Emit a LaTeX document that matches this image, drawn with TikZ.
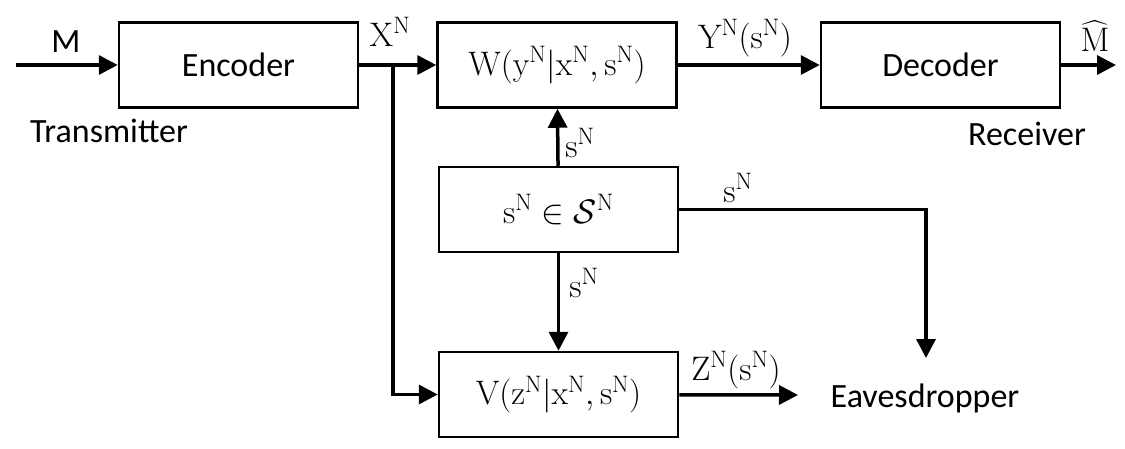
\RequirePackage{fix-cm}
\documentclass[tikz,border=0pt]{standalone}
\usepackage{fontspec}
\usepackage{amsmath}
\newfontfamily\labelfont{Carlito}
\usetikzlibrary{arrows.meta}

\tikzset{
  block/.style={draw, line width=2.5pt, minimum width=239pt, minimum height=85pt, inner sep=0pt},
  sig/.style={line width=3.5pt, -{Triangle[length=19pt,width=19pt]}},
  txt/.style={font=\labelfont\fontsize{34}{40}\selectfont, inner sep=0pt},
  mth/.style={font=\fontsize{34}{40}\selectfont, inner sep=0pt}
}

\begin{document}
\begin{tikzpicture}[x=1pt, y=-1pt]

        \useasboundingbox (0,0) rectangle (1125,448);

        % Blocks
        \node[block, txt] (enc) at (238.5,65) {Encoder};
        \node[block, mth] (chw) at (557,65) {$\mathrm{W(y^N|x^N,s^N)}$};
        \node[block, txt] (dec) at (940.5,65) {Decoder};
        \node[block, mth] (state) at (558.5,209.5) {$\mathrm{s^N} \in \mathcal{S}^{\mathrm{N}}$};
        \node[block, mth] (chv) at (558.5,394.5) {$\mathrm{V(z^N|x^N,s^N)}$};

        % free ends
        \coordinate (msg) at (16,65);
        \coordinate (split) at (393,65);
        \coordinate (mhat) at (1116,65);
        \coordinate (zout) at (798,395);
        \coordinate (eve) at (926,358);

        % Signals
        \draw[sig] (msg) -- (enc);
        \draw[sig] (enc) -- (chw);
        \draw[sig] (chw) -- (dec);
        \draw[sig] (dec) -- (mhat);
        \draw[sig] (split) |- (chv);
        \draw[sig] (state) -- (chw);
        \draw[sig] (state) -- (chv);
        \draw[sig] (state.east) -| (eve);
        \draw[sig] (chv) -- (zout);

        % Labels
        \node[txt] (lm) at (66,42) {M};
        \node[txt] (ltx) at (109,131) {Transmitter};
        \node[txt] (lrx) at (1027,134) {Receiver};
        \node[txt] (leve) at (925,398) {Eavesdropper};
        \node[mth] (lx) at (390,32) {$\mathrm{X^N}$};
        \node[mth] (ly) at (745,38) {$\mathrm{Y^N(s^N)}$};
        \node[mth] (lmhat) at (1095,36) {$\widehat{\mathrm{M}}$};
        \node[mth] (ls1) at (580,143) {$\mathrm{s^N}$};
        \node[mth] (ls2) at (584,283) {$\mathrm{s^N}$};
        \node[mth] (ls3) at (738,188) {$\mathrm{s^N}$};
        \node[mth] (lz) at (736,370) {$\mathrm{Z^N(s^N)}$};

\end{tikzpicture}
\end{document}
